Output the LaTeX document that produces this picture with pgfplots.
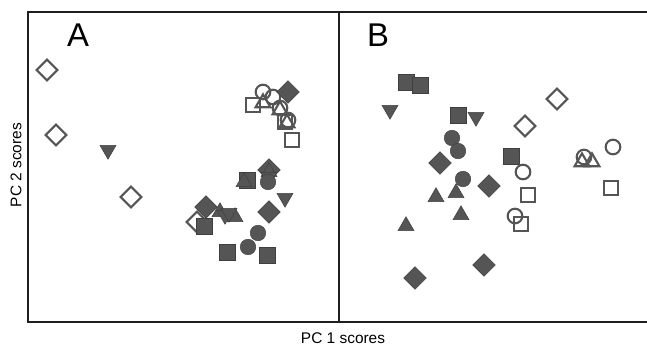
\documentclass[border=0pt]{standalone}
\usepackage{pgfplots}
\pgfplotsset{compat=1.18}
\usepackage{fontspec}
\setmainfont{Liberation Sans}
\definecolor{mk}{HTML}{555555}
\definecolor{mkd}{HTML}{3F3F3F}
\tikzset{
  filledbase/.style={fill=mk, draw=mkd, line width=0.45bp, double=black!35, double distance=0.35bp},
  openbase/.style={fill=none, draw=mk, line width=2.1bp},
}
\begin{document}
\begin{tikzpicture}
\pgfplotsset{
  panel/.style={scale only axis, height=310bp, ymin=25, ymax=335,
    ticks=none, axis line style={line width=1.7bp, color=black!88},
    clip=false, anchor=south west},
  fdia/.style={only marks, mark=square*, mark size=8bp, mark options={rotate=45, filledbase}},
  odia/.style={only marks, mark=square, mark size=7.3bp, mark options={rotate=45, openbase}},
  fsq/.style={only marks, mark=square*, mark size=7.8bp, mark options={filledbase}},
  osq/.style={only marks, mark=square, mark size=7.2bp, mark options={openbase}},
  fcir/.style={only marks, mark=*, mark size=7.8bp, mark options={filledbase}},
  ocir/.style={only marks, mark=o, mark size=7.3bp, mark options={openbase}},
  ftri/.style={only marks, mark=triangle*, mark size=9.3bp, mark options={filledbase}},
  otri/.style={only marks, mark=triangle, mark size=8.6bp, mark options={openbase}},
  finv/.style={only marks, mark=triangle*, mark size=9.3bp, mark options={rotate=180, filledbase}},
}
% Panel A
\begin{axis}[panel, at={(28bp,25bp)}, width=311bp, xmin=28, xmax=339]
\addplot[odia] coordinates {(47,277) (56,212) (131,150) (197,125)};
\addplot[osq] coordinates {(253,242) (285,225) (292,207)};
\addplot[ocir] coordinates {(263,255) (273,250) (280,239) (288,227)};
\addplot[otri] coordinates {(263,244) (280,237) (287,224)};
\addplot[fdia] coordinates {(288,255) (206,140) (269,135) (269,177)};
\addplot[fsq] coordinates {(247,167) (204,121) (227,95) (267,92)};
\addplot[ftri] coordinates {(244,165) (269,175) (220,135) (235,130)};
\addplot[finv] coordinates {(108,197) (225,132) (229,134) (269,170) (285,149)};
\addplot[fcir] coordinates {(268,165) (258,114) (248,100)};
\node[font=\fontsize{33}{33}\selectfont] at (axis cs:78,312) {A};
\end{axis}
% Panel B
\begin{axis}[panel, at={(339bp,25bp)}, width=331bp, xmin=339, xmax=670]
\addplot[fsq] coordinates {(406,265) (420,262) (458,232) (511,191)};
\addplot[finv] coordinates {(390,237) (476,230)};
\addplot[fcir] coordinates {(452,209) (458,196) (463,168)};
\addplot[fdia] coordinates {(440,184) (489,161) (484,82) (415,69)};
\addplot[ftri] coordinates {(436,150) (456,154) (461,132) (406,121)};
\addplot[odia] coordinates {(557,248) (525,221)};
\addplot[ocir] coordinates {(523,175) (515,131) (584,190) (613,200)};
\addplot[osq] coordinates {(528,152) (521,123) (611,159)};
\addplot[otri] coordinates {(582,185) (592,185)};
\node[font=\fontsize{33}{33}\selectfont] at (axis cs:378,312) {B};
\end{axis}
\node[font=\fontsize{15.5}{15.5}\selectfont] at (343bp,8.5bp) {PC 1 scores};
\node[font=\fontsize{15.5}{15.5}\selectfont, rotate=90] at (16bp,182bp) {PC 2 scores};
\pgfresetboundingbox
\path[use as bounding box] (0,0) rectangle (647bp,347bp);
\end{tikzpicture}
\end{document}
